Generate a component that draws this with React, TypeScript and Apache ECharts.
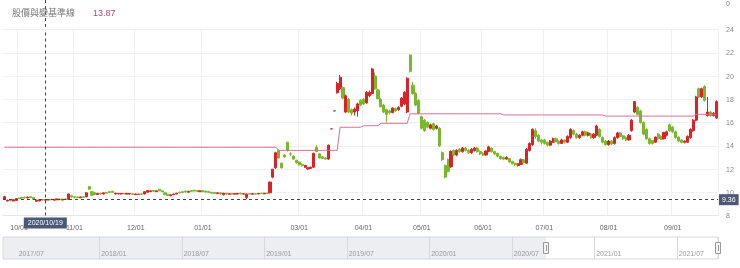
import React, { useEffect, useRef } from 'react';
import * as echarts from 'echarts';

// ---------- categories ----------
const HOLIDAYS = [
  '2020-10-01', '2020-10-02', '2020-10-09', '2021-01-01',
  '2021-02-08', '2021-02-09', '2021-02-10', '2021-02-11', '2021-02-12', '2021-02-15', '2021-02-16',
  '2021-03-01', '2021-04-02', '2021-04-05', '2021-06-14', '2021-09-20', '2021-09-21',
];
function tradingDays(start: string, end: string): string[] {
  const out: string[] = [];
  const d = new Date(start + 'T00:00:00Z');
  const e = new Date(end + 'T00:00:00Z');
  while (d <= e) {
    const wd = d.getUTCDay();
    const iso = d.toISOString().slice(0, 10);
    if (wd !== 0 && wd !== 6 && !HOLIDAYS.includes(iso)) out.push(iso.replace(/-/g, '/'));
    d.setUTCDate(d.getUTCDate() + 1);
  }
  return out;
}
const DATES = tradingDays('2020-09-24', '2021-09-24');
const HIDDEN_MONTH_LABELS = ['02'];

const NAV_MONTHS: string[] = [];
for (let y = 2017, m = 6; y < 2021 || (y === 2021 && m <= 9); ) {
  NAV_MONTHS.push(`${y}/${String(m).padStart(2, '0')}`);
  m++;
  if (m > 12) { m = 1; y++; }
}
const NAV_WINDOW_START = '2020/09';

// ---------- series values: [open, close, low, high] ----------
const CANDLES: number[][] = [
  // 0
  [9.40, 9.62, 9.35, 9.70], [9.25, 9.32, 9.20, 9.35], [9.35, 9.28, 9.22, 9.38], [9.25, 9.35, 9.22, 9.40], [9.30, 9.45, 9.28, 9.48],
  [9.50, 9.45, 9.42, 9.55], [9.55, 9.50, 9.45, 9.58], [9.58, 9.52, 9.48, 9.62], [9.50, 9.58, 9.48, 9.62], [9.62, 9.55, 9.50, 9.65],
  // 10
  [9.55, 9.40, 9.38, 9.58], [9.22, 9.32, 9.18, 9.35], [9.25, 9.35, 9.22, 9.38], [9.38, 9.33, 9.30, 9.40], [9.32, 9.36, 9.30, 9.40],
  [9.33, 9.38, 9.30, 9.42], [9.40, 9.35, 9.32, 9.42], [9.32, 9.40, 9.30, 9.42], [9.36, 9.42, 9.33, 9.45], [9.42, 9.36, 9.32, 9.45],
  // 20
  [9.33, 9.40, 9.30, 9.42], [9.42, 9.38, 9.35, 9.45], [9.38, 9.85, 9.35, 9.90], [9.70, 9.60, 9.55, 9.75], [9.62, 9.55, 9.50, 9.65],
  [9.60, 9.55, 9.52, 9.63], [9.52, 9.60, 9.50, 9.62], [9.62, 9.56, 9.52, 9.65], [9.60, 9.95, 9.58, 10.00], [10.48, 10.28, 10.20, 10.55],
  // 30
  [10.05, 9.75, 9.70, 10.10], [9.95, 9.80, 9.75, 10.00], [9.80, 9.90, 9.78, 9.95], [9.92, 9.85, 9.80, 9.95], [9.85, 9.95, 9.82, 9.98],
  [9.98, 9.92, 9.88, 10.00], [10.05, 9.98, 9.95, 10.10], [10.08, 10.00, 9.96, 10.12], [9.85, 9.92, 9.82, 9.95], [9.86, 9.90, 9.82, 9.93],
  // 40
  [9.85, 9.90, 9.80, 9.92], [9.90, 9.86, 9.82, 9.93], [9.84, 9.90, 9.80, 9.92], [9.85, 9.88, 9.80, 9.92], [9.88, 9.82, 9.78, 9.90],
  [9.80, 9.85, 9.76, 9.88], [9.80, 9.84, 9.78, 9.86], [9.86, 9.82, 9.78, 9.88], [9.85, 10.05, 9.82, 10.10], [10.00, 10.15, 9.98, 10.18],
  // 50
  [10.05, 10.12, 10.02, 10.16], [10.15, 10.08, 10.05, 10.18], [10.05, 10.12, 10.02, 10.15], [10.25, 10.12, 10.08, 10.30], [10.12, 10.05, 10.00, 10.15],
  [9.95, 9.80, 9.75, 9.98], [9.82, 9.72, 9.68, 9.85], [9.70, 9.78, 9.66, 9.80], [9.78, 9.85, 9.75, 9.88], [9.85, 9.92, 9.82, 9.95],
  // 60
  [10.00, 9.95, 9.92, 10.05], [10.05, 9.98, 9.95, 10.08], [10.10, 10.02, 9.98, 10.12], [10.00, 10.08, 9.98, 10.12], [10.15, 10.08, 10.05, 10.18],
  [10.18, 10.10, 10.06, 10.20], [10.15, 10.08, 10.05, 10.18], [10.05, 10.12, 10.02, 10.15], [10.15, 10.05, 10.02, 10.18], [10.10, 10.02, 9.98, 10.12],
  // 70
  [10.08, 9.98, 9.95, 10.10], [10.00, 9.92, 9.88, 10.02], [9.98, 9.90, 9.86, 10.00], [9.88, 9.95, 9.85, 9.98], [9.95, 9.85, 9.82, 9.98],
  [9.78, 9.92, 9.72, 9.95], [9.92, 9.85, 9.80, 9.95], [9.82, 9.88, 9.80, 9.90], [9.90, 9.85, 9.80, 9.92], [9.84, 9.88, 9.80, 9.90],
  // 80
  [9.85, 9.90, 9.82, 9.92], [9.92, 9.86, 9.82, 9.95], [9.84, 9.88, 9.80, 9.90], [9.55, 9.85, 9.40, 9.90], [9.88, 9.84, 9.80, 9.90],
  [9.82, 9.88, 9.78, 9.90], [9.88, 9.84, 9.80, 9.90], [9.85, 9.90, 9.82, 9.92], [9.92, 9.88, 9.85, 9.95], [9.86, 9.92, 9.84, 9.95],
  // 90
  [9.93, 9.90, 9.86, 9.96], [9.95, 10.88, 9.92, 10.90], [11.30, 11.98, 11.20, 11.99], [12.10, 13.40, 12.00, 13.45], [13.60, 12.95, 12.90, 13.70],
  [12.50, 12.10, 12.05, 12.55], [13.20, 13.05, 12.95, 13.30], [14.30, 13.60, 13.50, 14.35], [13.30, 13.28, 13.10, 13.45], [13.10, 12.85, 12.80, 13.20],
  // 100
  [12.75, 12.55, 12.45, 12.80], [12.60, 12.35, 12.30, 12.65], [12.40, 12.30, 12.20, 12.50], [12.15, 12.30, 12.10, 12.35], [12.00, 12.10, 11.95, 12.15],
  [12.05, 12.15, 12.00, 12.20], [12.15, 13.35, 12.10, 13.40], [13.85, 13.50, 13.45, 14.05], [13.30, 12.95, 12.90, 13.35], [13.05, 12.90, 12.85, 13.10],
  // 110
  [12.95, 12.85, 12.80, 13.00], [12.85, 14.05, 12.80, 14.10], [15.45, 15.45, 15.45, 15.45], [17.00, 17.00, 17.00, 17.00], [18.55, 19.35, 18.50, 19.50],
  [18.90, 19.90, 18.80, 20.10], [19.00, 18.10, 18.00, 19.10], [16.90, 18.30, 16.80, 18.40], [18.00, 16.90, 16.80, 18.10], [17.10, 16.80, 16.60, 17.20],
  // 120
  [16.90, 17.15, 16.60, 17.30], [17.00, 17.60, 16.50, 17.70], [17.90, 17.50, 17.40, 18.00], [18.00, 17.60, 17.50, 18.10], [17.70, 18.60, 17.60, 18.70],
  [18.30, 18.60, 18.20, 18.75], [18.50, 20.60, 18.40, 20.70], [20.00, 18.90, 18.80, 20.30], [18.80, 18.05, 18.00, 18.90], [18.00, 17.35, 17.30, 18.10],
  // 130
  [17.50, 16.90, 16.80, 17.60], [17.10, 16.70, 16.00, 17.20], [17.00, 16.85, 16.70, 17.10], [16.85, 17.25, 16.80, 17.30], [17.20, 17.00, 16.90, 17.30],
  [17.10, 17.30, 17.00, 17.40], [17.40, 18.10, 17.30, 18.20], [17.60, 18.60, 17.50, 18.70], [16.90, 19.80, 16.80, 19.90], [21.80, 20.40, 20.30, 21.85],
  // 140
  [19.20, 18.50, 18.40, 19.50], [18.50, 17.50, 17.40, 18.60], [17.90, 16.80, 16.70, 18.00], [16.50, 15.50, 15.40, 16.60], [16.20, 15.30, 15.20, 16.30],
  [16.00, 15.60, 15.50, 16.10], [15.50, 15.80, 15.40, 15.90], [15.90, 15.40, 15.30, 16.00], [15.50, 15.70, 15.40, 15.80], [15.50, 14.00, 13.90, 15.60],
  // 150
  [13.40, 12.80, 12.70, 13.50], [12.30, 11.30, 11.20, 12.40], [12.80, 11.80, 11.70, 12.90], [12.20, 13.50, 12.10, 13.60], [13.60, 13.20, 13.10, 13.70],
  [13.20, 13.60, 13.10, 13.70], [13.70, 13.50, 13.40, 13.80], [13.50, 13.80, 13.40, 13.90], [13.80, 13.60, 13.50, 13.90], [13.60, 13.40, 13.30, 13.70],
  // 160
  [13.40, 13.70, 13.30, 13.80], [13.60, 13.80, 13.50, 13.90], [13.80, 13.50, 13.40, 13.90], [13.50, 13.30, 13.20, 13.60], [13.35, 13.20, 13.10, 13.45],
  [13.20, 13.55, 13.15, 13.60], [13.50, 13.90, 13.45, 14.00], [13.80, 13.50, 13.40, 13.85], [13.50, 13.30, 13.20, 13.55], [13.35, 13.10, 13.00, 13.40],
  // 170
  [13.10, 12.90, 12.80, 13.15], [13.00, 12.85, 12.75, 13.05], [12.85, 13.00, 12.80, 13.10], [12.90, 12.60, 12.55, 12.95], [12.65, 12.45, 12.40, 12.70],
  [12.50, 12.35, 12.25, 12.55], [12.30, 12.45, 12.20, 12.50], [12.40, 12.80, 12.35, 12.90], [12.80, 12.55, 12.50, 12.85], [12.50, 13.70, 12.45, 13.80],
  // 180
  [13.60, 14.20, 13.50, 14.30], [14.10, 15.40, 14.00, 15.50], [15.30, 14.80, 14.60, 15.50], [14.90, 14.40, 14.30, 15.00], [14.50, 14.30, 14.10, 14.60],
  [14.50, 14.20, 14.10, 14.60], [14.30, 14.05, 13.95, 14.35], [14.05, 14.40, 14.00, 14.50], [14.30, 14.60, 14.25, 14.70], [14.60, 14.35, 14.30, 14.70],
  // 190
  [14.40, 14.20, 14.10, 14.45], [14.20, 14.50, 14.15, 14.60], [14.50, 14.30, 14.20, 14.55], [14.30, 14.80, 14.25, 14.90], [14.70, 15.40, 14.60, 15.50],
  [15.30, 15.00, 14.90, 15.40], [15.00, 14.70, 14.60, 15.10], [14.70, 14.90, 14.60, 15.00], [14.90, 15.20, 14.80, 15.30], [15.20, 14.90, 14.80, 15.30],
  // 200
  [14.90, 15.10, 14.80, 15.20], [15.00, 14.70, 14.60, 15.10], [14.70, 15.00, 14.60, 15.10], [14.90, 15.70, 14.85, 15.80], [15.40, 14.80, 14.70, 15.50],
  [14.70, 14.30, 14.20, 14.80], [14.40, 14.10, 14.00, 14.50], [14.10, 14.40, 14.00, 14.50], [14.40, 14.15, 14.05, 14.50], [14.20, 14.70, 14.10, 14.80],
  // 210
  [14.70, 15.10, 14.60, 15.20], [15.10, 14.80, 14.70, 15.20], [14.85, 14.60, 14.50, 14.90], [14.70, 14.50, 14.40, 14.80], [14.50, 14.90, 14.45, 15.00],
  [15.30, 16.20, 15.20, 16.30], [16.90, 17.80, 16.80, 17.85], [17.30, 16.70, 16.60, 17.40], [17.00, 16.00, 15.90, 17.10], [16.00, 15.00, 14.90, 16.10],
  // 220
  [15.40, 14.60, 14.50, 15.50], [14.60, 14.20, 14.10, 14.70], [14.45, 14.20, 14.10, 14.50], [14.30, 14.75, 14.25, 14.80], [15.00, 14.60, 14.50, 15.10],
  [14.80, 14.55, 14.50, 14.90], [14.60, 15.15, 14.55, 15.20], [14.90, 15.20, 14.80, 15.30], [15.80, 15.30, 15.20, 15.90], [15.60, 15.20, 15.10, 15.70],
  // 230
  [15.20, 14.70, 14.60, 15.30], [14.75, 14.40, 14.30, 14.80], [14.50, 14.30, 14.20, 14.55], [14.30, 14.40, 14.20, 14.45], [14.30, 14.80, 14.25, 14.90],
  [14.70, 15.40, 14.60, 15.50], [15.30, 16.20, 15.20, 16.30], [16.20, 18.20, 16.10, 18.30], [18.90, 18.20, 18.10, 19.00], [18.20, 18.90, 18.10, 19.00],
  // 240
  [19.10, 17.90, 17.80, 19.20], [16.60, 16.90, 16.50, 18.20], [16.90, 16.60, 16.50, 17.00], [16.60, 16.80, 16.50, 16.90], [16.40, 17.80, 16.30, 17.90],
];

const BASE_LINE: number[] = [
  // 0
  13.87, 13.87, 13.87, 13.87, 13.87, 13.87, 13.87, 13.87, 13.87, 13.87,
  13.87, 13.87, 13.87, 13.87, 13.87, 13.87, 13.87, 13.87, 13.87, 13.87,
  13.87, 13.87, 13.87, 13.87, 13.87, 13.87, 13.87, 13.87, 13.87, 13.87,
  13.87, 13.87, 13.87, 13.87, 13.87, 13.87, 13.87, 13.87, 13.87, 13.87,
  13.87, 13.87, 13.87, 13.87, 13.87, 13.87, 13.87, 13.87, 13.87, 13.87,
  // 50
  13.87, 13.87, 13.87, 13.87, 13.87, 13.87, 13.87, 13.87, 13.87, 13.87,
  13.87, 13.87, 13.87, 13.87, 13.87, 13.87, 13.87, 13.87, 13.87, 13.87,
  13.87, 13.87, 13.87, 13.87, 13.87, 13.87, 13.87, 13.87, 13.87, 13.87,
  13.87, 13.87, 13.87, 13.87, 13.87, 13.87, 13.87, 13.87, 13.87, 13.87,
  // 90
  13.87, 13.87, 13.87, 13.87, 13.6, 13.6, 13.6, 13.6, 13.6, 13.6,
  13.6, 13.6, 13.6, 13.6, 13.6, 13.6, 13.6, 13.6, 13.6, 13.6,
  13.6, 13.6, 13.6, 13.6, 13.6, 15.59, 15.59, 15.59, 15.59, 15.59,
  // 120
  15.59, 15.59, 15.59, 15.72, 15.72, 15.72, 15.72, 15.72, 15.72, 15.93,
  15.93, 15.93, 15.93, 15.93, 15.93, 15.93, 15.93, 15.93, 15.93, 16.75,
  // 140
  16.75, 16.75, 16.75, 16.75, 16.75, 16.75, 16.75, 16.75, 16.75, 16.75,
  16.75, 16.75, 16.75, 16.75, 16.75, 16.75, 16.75, 16.75, 16.75, 16.75,
  16.75, 16.75, 16.75, 16.75, 16.75, 16.75, 16.75, 16.75, 16.75, 16.75,
  // 170
  16.75, 16.65, 16.65, 16.65, 16.65, 16.65, 16.65, 16.65, 16.65, 16.65,
  16.65, 16.65, 16.65, 16.65, 16.65, 16.65, 16.65, 16.65, 16.65, 16.65,
  16.65, 16.65, 16.65, 16.65, 16.65, 16.65, 16.65, 16.65, 16.65, 16.65,
  // 200
  16.65, 16.65, 16.65, 16.65, 16.65, 16.65, 16.55, 16.55, 16.55, 16.55,
  16.55, 16.55, 16.55, 16.55, 16.55, 16.55, 16.55, 16.55, 16.55, 16.55,
  16.55, 16.55, 16.55, 16.55, 16.55, 16.55, 16.55, 16.55, 16.55, 16.55,
  // 230
  16.55, 16.55, 16.55, 16.55, 16.55, 16.55, 16.55, 16.7, 16.7, 16.7,
  16.7, 16.7, 16.7, 16.7, 16.7,
];

const LINE_NAME = '股價與變基準線';
const CROSS_INDEX = 14; // 2020/10/19
const CROSS_PRICE = 9.36;
const Y_TOP_LABEL = '0';

// ---------- styles ----------
const FONT = '"Liberation Sans", Arial, "Noto Sans CJK TC", sans-serif';
const UP = '#dc2228';
const DOWN = '#78b82a';
const LINE_COLOR = '#d86d91';
const VALUE_COLOR = '#b5466f';
const POINTER_BG = '#4b5877';

const monthOf = (d: string) => d.slice(5, 7);
const MONTH_START = new Set<number>();
DATES.forEach((d, i) => {
  if (i > 0 && monthOf(d) !== monthOf(DATES[i - 1]) && !HIDDEN_MONTH_LABELS.includes(monthOf(d))) MONTH_START.add(i);
});
const navTick = (v: string) => v.endsWith('/01') || v.endsWith('/07');

export default function App() {
  const ref = useRef<HTMLDivElement>(null);
  useEffect(() => {
    const chart = echarts.init(ref.current!, null, { renderer: 'svg' });
    const option: any = {
      animation: false,
      textStyle: { fontFamily: FONT },
      grid: [
        { left: 3, right: 22, top: 29.5, height: 186 },
        { left: 3, right: 22, top: 237, height: 22, show: true, borderColor: '#d8d8d8', borderWidth: 1, backgroundColor: 'transparent' },
      ],
      xAxis: [
        {
          type: 'category', gridIndex: 0, data: DATES, boundaryGap: true,
          axisLine: { show: true, lineStyle: { color: '#e6e6e6' } },
          axisTick: { show: false },
          axisLabel: {
            interval: (i: number) => MONTH_START.has(i),
            formatter: (v: string) => v.slice(5, 7) + '/01',
            fontSize: 7, color: '#666', margin: 8,
          },
          splitLine: { show: true, interval: (i: number) => MONTH_START.has(i), lineStyle: { color: '#f0f0f0' } },
          axisPointer: {
            show: true, type: 'line', value: CROSS_INDEX, status: 'show', snap: false, triggerTooltip: false,
            lineStyle: { color: '#444', width: 1, type: [3, 3] },
            label: {
              show: true,
              formatter: (p: any) => (typeof p.value === 'number' ? DATES[p.value] : p.value),
              backgroundColor: POINTER_BG, color: '#fff', fontSize: 7, padding: [2, 4], margin: 2, borderRadius: 0,
            },
          },
        },
        {
          type: 'category', gridIndex: 1, data: NAV_MONTHS, boundaryGap: true,
          axisLine: { show: false }, axisTick: { show: false },
          axisLabel: {
            inside: true, interval: (_i: number, v: string) => navTick(v),
            fontSize: 7, color: '#9a9a9a', align: 'left', margin: 2, padding: [0, 0, 0, -5],
          },
          splitLine: { show: true, interval: (i: number, v: string) => i > 1 && navTick(v), lineStyle: { color: '#d8d8d8' } },
        },
      ],
      yAxis: [
        {
          type: 'value', gridIndex: 0, position: 'right', min: 8, max: 24, interval: 2,
          axisLine: { show: false }, axisTick: { show: false },
          axisLabel: { fontSize: 7, color: '#888', margin: 8 },
          splitLine: { lineStyle: { color: '#f0f0f0' } },
          axisPointer: {
            show: true, type: 'line', value: CROSS_PRICE, status: 'show', snap: false, triggerTooltip: false,
            lineStyle: { color: '#444', width: 1, type: [3, 3] },
            label: {
              show: true, formatter: (p: any) => Number(p.value).toFixed(2),
              backgroundColor: POINTER_BG, color: '#fff', fontSize: 7, padding: [2, 3], margin: 1, borderRadius: 0,
            },
          },
        },
        { type: 'value', gridIndex: 1, show: false, min: 0, max: 1 },
      ],
      series: [
        {
          type: 'candlestick', xAxisIndex: 0, yAxisIndex: 0, data: CANDLES, barWidth: '88%',
          itemStyle: { color: UP, color0: DOWN, borderColor: UP, borderColor0: DOWN, borderWidth: 1 },
        },
        {
          type: 'line', name: LINE_NAME, xAxisIndex: 0, yAxisIndex: 0, data: BASE_LINE,
          showSymbol: false, symbol: 'none', lineStyle: { color: LINE_COLOR, width: 1 }, z: 3,
        },
      ],
    };
    chart.setOption(option);

    const xc = Math.round(chart.convertToPixel({ xAxisIndex: 0 }, DATES[CROSS_INDEX]) as number) + 0.5;
    const navX = chart.convertToPixel({ xAxisIndex: 1 }, NAV_WINDOW_START) as number;
    const navRight = 718;
    const handle = (cx: number) => ({
      type: 'group',
      children: [
        { type: 'rect', shape: { x: Math.round(cx) - 2.5, y: 242.5, width: 5, height: 11 }, style: { fill: '#f4f4f4', stroke: '#9a9a9a', lineWidth: 1 }, z: 10 },
        { type: 'line', shape: { x1: Math.round(cx) + 0.5, y1: 245, x2: Math.round(cx) + 0.5, y2: 251 }, style: { stroke: '#9a9a9a', lineWidth: 1 }, z: 11 },
      ],
    });
    chart.setOption({
      graphic: [
        { type: 'line', shape: { x1: xc, y1: 0, x2: xc, y2: 29.5 }, style: { stroke: '#444', lineWidth: 1, lineDash: [3, 3] } },
        { type: 'text', x: 726, y: 3, style: { text: Y_TOP_LABEL, fontSize: 7, fill: '#888', fontFamily: FONT, verticalAlign: 'middle' } },
        { type: 'text', x: 12, y: 13, style: { text: LINE_NAME, fontSize: 9, fill: '#777', fontFamily: FONT, verticalAlign: 'middle' } },
        { type: 'text', x: 93, y: 13, style: { text: BASE_LINE[CROSS_INDEX].toFixed(2), fontSize: 9, fill: VALUE_COLOR, fontFamily: FONT, verticalAlign: 'middle' } },
        { type: 'rect', shape: { x: 3, y: 237, width: navX - 3, height: 22 }, style: { fill: '#eceef2' }, z: -5 },
        handle(navX),
        handle(navRight),
      ],
    });
    return () => chart.dispose();
  }, []);
  return <div ref={ref} style={{ position: 'fixed', left: 0, top: 0, width: 740, height: 268 }} />;
}
